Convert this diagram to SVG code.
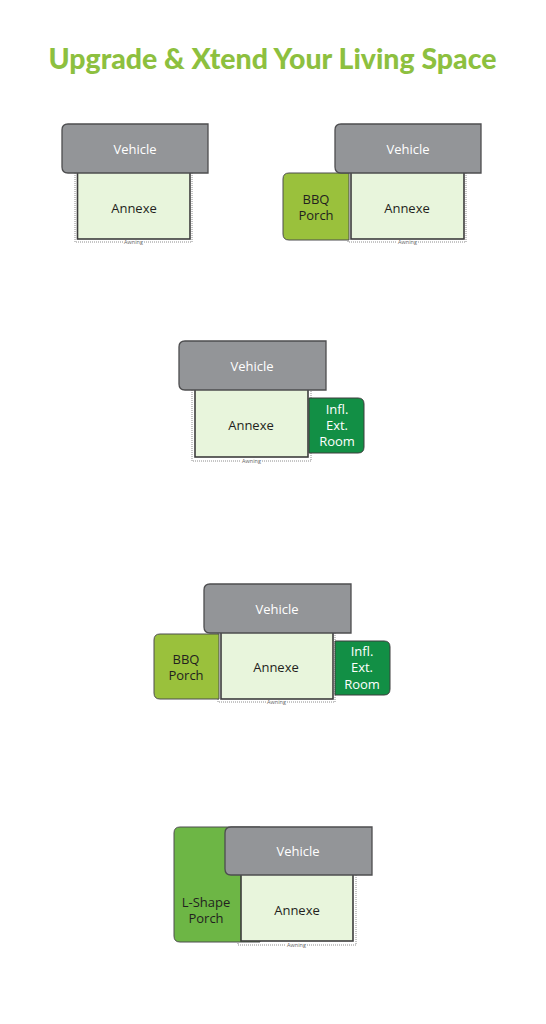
<svg xmlns="http://www.w3.org/2000/svg" width="546" height="1024" viewBox="0 0 546 1024">
<style>
.title{font-family:Lato,"Noto Sans",sans-serif;font-weight:900;font-size:28.5px;fill:#8dc03f;text-anchor:middle}
.veh{fill:#939598;stroke:#4d4d4f;stroke-width:1.3}
.ann{fill:#e8f5dc;stroke:#3c3c3c;stroke-width:1.6}
.bbq{fill:#9ac13c;stroke:#4d4d4f;stroke-width:1}
.lsh{fill:#6db645;stroke:#4d4d4f;stroke-width:1}
.inf{fill:#128f45;stroke:#3c3c3c;stroke-width:1}
.awn{fill:none;stroke:#808080;stroke-width:0.9;stroke-dasharray:1 1}
.lw{font-family:"Open Sans","Noto Sans",sans-serif;font-size:13px;fill:#ffffff;text-anchor:middle}
.ld{font-family:"Open Sans","Noto Sans",sans-serif;font-size:13px;fill:#231f20;text-anchor:middle}
.la{font-family:"Open Sans","Noto Sans",sans-serif;font-size:5.5px;fill:#666;text-anchor:middle}
</style>
<rect width="546" height="1024" fill="#ffffff"/>
<text class="title" x="272.5" y="69" textLength="448" lengthAdjust="spacingAndGlyphs">Upgrade &amp; Xtend Your Living Space</text>

<g id="d1">
  <g id="d1-awning"><path class="awn" d="M75,173 V242 H123 M144,242 H192 V173"/><text class="la" x="133.5" y="244">Awning</text></g>
  <g id="d1-annexe"><rect class="ann" x="77.5" y="172" width="112.5" height="67"/><text class="ld" x="134" y="213">Annexe</text></g>
  <g id="d1-vehicle"><path class="veh" d="M68,124 H208 V173 H68 Q62,173 62,167 V130 Q62,124 68,124 Z"/><text class="lw" x="135" y="154">Vehicle</text></g>
</g>

<g id="d2">
  <g id="d2-awning"><path class="awn" d="M348,173 V242 H397 M418,242 H466 V173"/><text class="la" x="407.5" y="244">Awning</text></g>
  <g id="d2-annexe"><rect class="ann" x="351" y="172" width="113" height="67"/><text class="ld" x="407" y="213">Annexe</text></g>
  <g id="d2-porch"><path class="bbq" d="M289,173 H349 V240 H289 Q283,240 283,234 V179 Q283,173 289,173 Z"/><text class="ld"><tspan x="316" y="204">BBQ</tspan><tspan x="316" y="220">Porch</tspan></text></g>
  <g id="d2-vehicle"><path class="veh" d="M341,124 H481 V173 H341 Q335,173 335,167 V130 Q335,124 341,124 Z"/><text class="lw" x="408" y="154">Vehicle</text></g>
</g>

<g id="d3">
  <g id="d3-awning"><path class="awn" d="M192,390 V461 H241 M262,461 H311 V390"/><text class="la" x="251.5" y="463">Awning</text></g>
  <g id="d3-annexe"><rect class="ann" x="195" y="389" width="113" height="68"/><text class="ld" x="251" y="430">Annexe</text></g>
  <g id="d3-infl"><path class="inf" d="M309,398 H358 Q364,398 364,404 V447 Q364,453 358,453 H309 Z"/><text class="lw"><tspan x="337" y="414">Infl.</tspan><tspan x="337" y="430">Ext.</tspan><tspan x="337" y="446">Room</tspan></text></g>
  <g id="d3-vehicle"><path class="veh" d="M185,341 H326 V390 H185 Q179,390 179,384 V347 Q179,341 185,341 Z"/><text class="lw" x="252" y="371">Vehicle</text></g>
</g>

<g id="d4">
  <g id="d4-awning"><path class="awn" d="M218,633 V702 H266 M287,702 H335 V633"/><text class="la" x="276.5" y="704">Awning</text></g>
  <g id="d4-annexe"><rect class="ann" x="221" y="632" width="112" height="67"/><text class="ld" x="276" y="672">Annexe</text></g>
  <g id="d4-porch"><path class="bbq" d="M160,634 H219 V699 H160 Q154,699 154,693 V640 Q154,634 160,634 Z"/><text class="ld"><tspan x="186" y="664">BBQ</tspan><tspan x="186" y="680">Porch</tspan></text></g>
  <g id="d4-infl"><path class="inf" d="M335,641 H384 Q390,641 390,647 V689 Q390,695 384,695 H335 Z"/><text class="lw"><tspan x="362" y="656">Infl.</tspan><tspan x="362" y="672">Ext.</tspan><tspan x="362" y="689">Room</tspan></text></g>
  <g id="d4-vehicle"><path class="veh" d="M210,584 H351 V633 H210 Q204,633 204,627 V590 Q204,584 210,584 Z"/><text class="lw" x="277" y="614">Vehicle</text></g>
</g>

<g id="d5">
  <g id="d5-awning"><path class="awn" d="M238,875 V945 H286 M307,945 H356 V875"/><text class="la" x="296.5" y="947">Awning</text></g>
  <g id="d5-porch"><path class="lsh" d="M180,827 H260 V942 H180 Q174,942 174,936 V833 Q174,827 180,827 Z"/><text class="ld"><tspan x="206" y="907">L-Shape</tspan><tspan x="206" y="923">Porch</tspan></text></g>
  <g id="d5-annexe"><rect class="ann" x="241" y="874" width="112" height="67"/><text class="ld" x="297" y="915">Annexe</text></g>
  <g id="d5-vehicle"><path class="veh" d="M231,827 H372 V875 H231 Q225,875 225,869 V833 Q225,827 231,827 Z"/><text class="lw" x="298" y="856">Vehicle</text></g>
</g>
</svg>
